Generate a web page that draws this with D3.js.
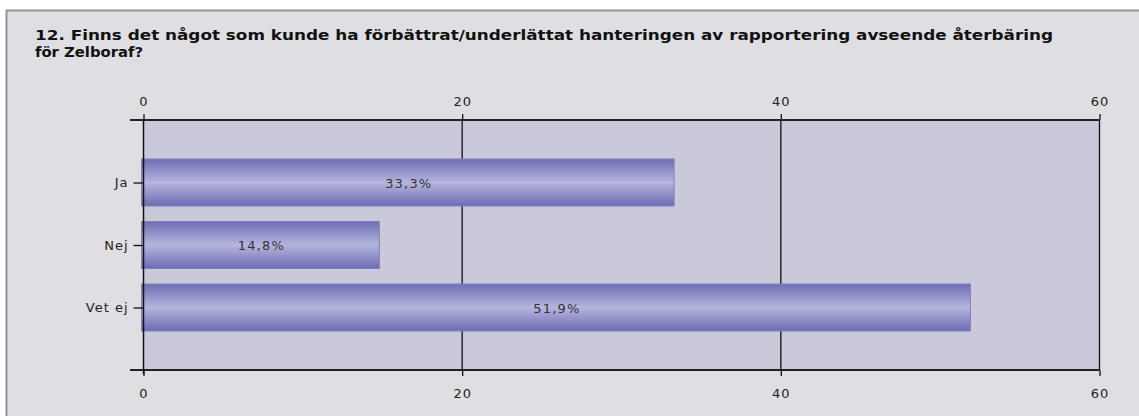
<!DOCTYPE html>
<html>
<head>
<meta charset="utf-8">
<script src="https://cdn.jsdelivr.net/npm/d3@7"></script>
<style>
  body { margin: 0; background: #fff; }
  svg { display: block; font-family: "DejaVu Sans", Verdana, sans-serif; }
</style>
</head>
<body>
<svg width="1139" height="416"></svg>
<script>
// survey answers, percent
const categories = ["Ja", "Nej", "Vet ej"];
const values = [33.3, 14.8, 51.9];
const labels = ["33,3%", "14,8%", "51,9%"];
const tickValues = [0, 20, 40, 60];
const titleLines = [
  "12. Finns det något som kunde ha förbättrat/underlättat hanteringen av rapportering avseende återbäring",
  "för Zelboraf?"
];
const titleWidths = [1018, 108];

const svg = d3.select("svg");
let margin = {top: 120, left: 143.5, right: 39.5, bottom: 46};
let w = 1139, h = 416;

// outer panel
svg.append("rect")
  .attr("x", 6.5).attr("y", 10.5)
  .attr("width", 1140).attr("height", 420)
  .attr("fill", "#dfdfe3")
  .attr("stroke", "#959595")
  .attr("stroke-width", 2);

svg.selectAll(".title")
  .data(titleLines)
  .enter()
  .append("text")
  .attr("class", "title")
  .attr("x", 35)
  .attr("y", (d, i) => 40 + i * 17)
  .attr("font-size", 14)
  .attr("font-weight", "bold")
  .attr("fill", "#111")
  .attr("textLength", (d, i) => titleWidths[i])
  .attr("lengthAdjust", "spacingAndGlyphs")
  .text(d => d);

const xScale = d3.scaleLinear()
  .domain([0, 60])
  .range([margin.left, w - margin.right]);
const yScale = d3.scalePoint()
  .domain(categories)
  .range([margin.top, h - margin.bottom])
  .padding(1);

// plot background
svg.append("rect")
  .attr("x", xScale(0)).attr("y", margin.top)
  .attr("width", xScale(60) - xScale(0))
  .attr("height", h - margin.bottom - margin.top)
  .attr("fill", "#c9c9d9");

// grid lines
svg.append("g")
  .selectAll("line")
  .data(tickValues.slice(1))
  .enter()
  .append("line")
  .attr("x1", d => xScale(d)).attr("x2", d => xScale(d))
  .attr("y1", margin.top).attr("y2", h - margin.bottom)
  .attr("stroke", "#111")
  .attr("stroke-width", 1.3);

// bar gradient
const defs = svg.append("defs");
const grad = defs.append("linearGradient")
  .attr("id", "barGrad")
  .attr("x1", 0).attr("y1", 0).attr("x2", 0).attr("y2", 1);
grad.append("stop").attr("offset", "0%").attr("stop-color", "#6e6eb4");
grad.append("stop").attr("offset", "50%").attr("stop-color", "#b5b5dd");
grad.append("stop").attr("offset", "100%").attr("stop-color", "#6c6cb2");

const barH = 47;
svg.append("g")
  .selectAll("rect")
  .data(values)
  .enter()
  .append("rect")
  .attr("x", xScale(0) - 2)
  .attr("y", (d, i) => yScale(categories[i]) - barH / 2)
  .attr("width", d => xScale(d) - xScale(0) + 2)
  .attr("height", barH)
  .attr("fill", "url(#barGrad)")
  .attr("stroke", "#8080c0")
  .attr("stroke-width", 1);

svg.append("g")
  .selectAll("text")
  .data(values)
  .enter()
  .append("text")
  .attr("x", d => (xScale(0) + xScale(d)) / 2)
  .attr("y", (d, i) => yScale(categories[i]) + 5)
  .attr("text-anchor", "middle")
  .attr("font-size", 13)
  .attr("letter-spacing", 1.2)
  .attr("fill", "#333")
  .text((d, i) => labels[i]);

// axes
const xTop = d3.axisTop(xScale).tickValues(tickValues).tickSize(6).tickSizeOuter(0).tickFormat(d3.format("d"));
const xBottom = d3.axisBottom(xScale).tickValues(tickValues).tickSize(6).tickSizeOuter(0).tickFormat(d3.format("d"));
const yLeft = d3.axisLeft(yScale).tickSize(10).tickSizeOuter(0).tickPadding(5);

function styleAxis(g) {
  g.select(".domain").remove();
  g.selectAll("line").attr("stroke", "#111").attr("stroke-width", 1.3);
  g.selectAll("text").attr("font-size", 13).attr("letter-spacing", 1).attr("fill", "#222")
    .attr("font-family", "DejaVu Sans, sans-serif");
}

svg.append("g")
  .attr("transform", "translate(0," + margin.top + ")")
  .call(xTop).call(styleAxis)
  .selectAll("text").attr("dy", "-0.4em");
svg.append("g")
  .attr("transform", "translate(0," + (h - margin.bottom) + ")")
  .call(xBottom).call(styleAxis)
  .selectAll("text").attr("dy", "1.45em");
svg.append("g")
  .attr("transform", "translate(" + margin.left + ",0)")
  .call(yLeft).call(styleAxis);

// top and bottom axis lines, running a bit past the left edge
svg.append("g")
  .selectAll("line")
  .data([margin.top, h - margin.bottom])
  .enter()
  .append("line")
  .attr("x1", 130).attr("x2", xScale(60))
  .attr("y1", d => d).attr("y2", d => d)
  .attr("stroke", "#222")
  .attr("stroke-width", 2);
svg.append("line")
  .attr("x1", margin.left).attr("x2", margin.left)
  .attr("y1", margin.top).attr("y2", h - margin.bottom + 4)
  .attr("stroke", "#111")
  .attr("stroke-width", 1.5);
</script>
</body>
</html>
